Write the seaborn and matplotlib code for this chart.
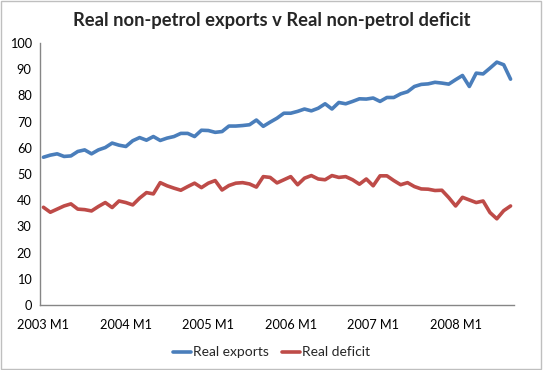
import numpy as np
import pandas as pd
import matplotlib
matplotlib.use("Agg")
import matplotlib.pyplot as plt
import seaborn as sns
from matplotlib.patches import Rectangle

# Monthly values, 2003 M1 .. 2008 M9
real_exports = [
    56.4, 57.2, 57.7, 56.7, 56.9, 58.6, 59.2, 57.7, 59.2, 60.1,
    61.8, 61.0, 60.5, 62.7, 63.9, 62.9, 64.3, 62.8, 63.7, 64.3,
    65.5, 65.5, 64.3, 66.7, 66.6, 65.9, 66.2, 68.3, 68.3, 68.5,
    68.8, 70.6, 68.2, 69.8, 71.3, 73.2, 73.2, 73.9, 74.8, 74.1,
    75.1, 76.8, 74.8, 77.3, 76.8, 77.7, 78.7, 78.6, 79.0, 77.7,
    79.2, 79.2, 80.6, 81.4, 83.4, 84.2, 84.4, 85.0, 84.7, 84.3,
    86.0, 87.6, 83.4, 88.5, 88.2, 90.4, 92.7, 91.7, 86.2,
]
real_deficit = [
    37.3, 35.4, 36.6, 37.8, 38.6, 36.6, 36.4, 35.9, 37.6, 39.1,
    37.2, 39.7, 39.1, 38.2, 40.8, 42.9, 42.4, 46.7, 45.5, 44.6,
    43.8, 45.2, 46.5, 44.8, 46.5, 47.5, 43.9, 45.6, 46.5, 46.7,
    46.2, 45.0, 49.0, 48.7, 46.6, 47.8, 49.0, 45.9, 48.4, 49.4,
    48.1, 47.8, 49.4, 48.7, 49.0, 47.8, 46.1, 48.1, 45.5, 49.3,
    49.3, 47.5, 45.9, 46.7, 45.2, 44.3, 44.2, 43.7, 43.8, 41.0,
    37.8, 41.1, 40.1, 39.1, 39.7, 35.3, 32.9, 36.0, 37.8,
]
years = [2003, 2004, 2005, 2006, 2007, 2008]
tick_labels = [f"{y} M1" for y in years]

months = np.arange(len(real_exports))
df = pd.DataFrame({
    "month": np.concatenate([months, months]),
    "value": real_exports + real_deficit,
    "series": ["Real exports"] * len(months) + ["Real deficit"] * len(months),
})

sns.set_style("white")
plt.rcParams["font.family"] = ["Lato", "DejaVu Sans"]

fig = plt.figure(figsize=(5.43, 3.70), dpi=100)
ax = fig.add_axes([40 / 543, 1 - 305 / 370, 474 / 543, 262 / 370])

sns.lineplot(data=df, x="month", y="value", hue="series",
             palette=["#4A7EBB", "#BE4B48"], linewidth=2.6, ax=ax)

ax.set_xlim(-0.5, len(months) - 0.5)
ax.set_ylim(0, 100)
ax.set_yticks(range(0, 101, 10))
ax.set_xticks(months[::12])
ax.set_xticklabels(tick_labels)
ax.set_xlabel("")
ax.set_ylabel("")
ax.tick_params(axis="both", length=0, labelsize=9.2, colors="#000000")
ax.tick_params(axis="x", pad=10)
ax.tick_params(axis="y", pad=6)

for side in ["top", "right"]:
    ax.spines[side].set_visible(False)
for side in ["left", "bottom"]:
    ax.spines[side].set_color("#868686")
    ax.spines[side].set_linewidth(1)

fig.suptitle("Real non-petrol exports v Real non-petrol deficit",
             fontsize=13.2, fontweight="bold", y=0.968)

ax.legend(loc="center", bbox_to_anchor=(0.5, (370 - 352.5) / 370),
          bbox_transform=fig.transFigure, ncol=2, frameon=False,
          fontsize=10, handlelength=1.3, handletextpad=0.1, columnspacing=1.0)

fig.patches.append(Rectangle((0.002, 0.003), 0.994, 0.993, transform=fig.transFigure,
                             fill=False, edgecolor="#BFBFBF", linewidth=1))

fig.savefig("out.png", dpi=100)
